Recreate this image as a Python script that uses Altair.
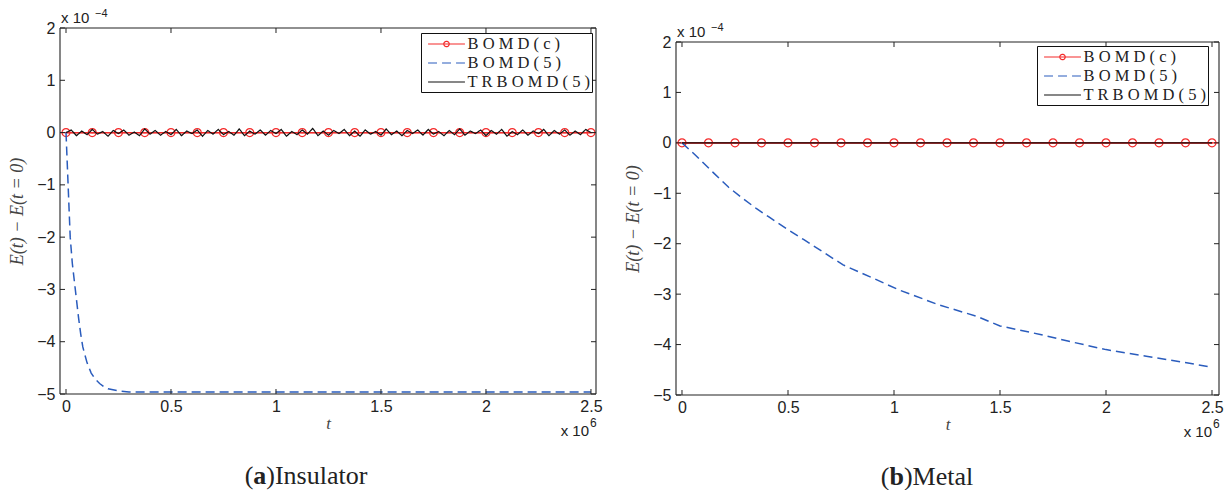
import altair as alt
import pandas as pd

# ---------------- data ----------------
series_names = ["BOMD(c)", "BOMD(5)", "TRBOMD(5)"]
series_colors = ["#f42a2a", "#2a5cbd", "#111111"]
series_dashes = [[1, 0], [9, 5], [1, 0]]

x_ticks = [0, 0.5, 1, 1.5, 2, 2.5]
y_ticks = [2, 1, 0, -1, -2, -3, -4, -5]

# BOMD(c) markers (t in units of 1e6, E in units of 1e-4)
marker_t = [0, 0.125, 0.25, 0.375, 0.5, 0.625, 0.75, 0.875, 1.0, 1.125, 1.25,
            1.375, 1.5, 1.625, 1.75, 1.875, 2.0, 2.125, 2.25, 2.375, 2.5]

# (a) Insulator
ins_bomd5_t = [0, 0.005, 0.01, 0.015, 0.02, 0.03, 0.04, 0.05, 0.06, 0.07, 0.08,
               0.09, 0.1, 0.12, 0.14, 0.16, 0.18, 0.2, 0.25, 0.3, 0.4, 0.6,
               1.0, 1.5, 2.0, 2.5]
ins_bomd5_e = [0, -0.5, -1.0, -1.5, -2.0, -2.5, -2.85, -3.2, -3.55, -3.85, -4.1,
               -4.25, -4.4, -4.6, -4.72, -4.8, -4.86, -4.9, -4.94, -4.96, -4.96,
               -4.96, -4.96, -4.96, -4.96, -4.96]
ins_tr_step = 0.025
ins_tr_e = [
    0.00, 0.05, -0.06, 0.03, -0.04, 0.06, -0.03, 0.02, -0.07, 0.04,
    -0.02, 0.05, -0.05, 0.01, -0.06, 0.07, -0.03, 0.04, -0.05, 0.02,
    -0.04, 0.06, -0.06, 0.03, -0.02, 0.05, -0.07, 0.04, -0.03, 0.06,
    -0.04, 0.02, -0.05, 0.07, -0.06, 0.03, -0.03, 0.05, -0.05, 0.04,
    -0.02, 0.06, -0.07, 0.02, -0.04, 0.05, -0.03, 0.08, -0.06, 0.03,
    -0.05, 0.04, -0.02, 0.06, -0.06, 0.03, -0.07, 0.05, -0.03, 0.02,
    -0.05, 0.07, -0.04, 0.03, -0.06, 0.04, -0.02, 0.05, -0.05, 0.06,
    -0.03, 0.02, -0.06, 0.04, -0.04, 0.07, -0.05, 0.03, -0.02, 0.05,
    -0.06, 0.04, -0.03, 0.06, -0.07, 0.02, -0.04, 0.05, -0.05, 0.03,
    -0.02, 0.06, -0.06, 0.04, -0.03, 0.05, -0.05, 0.03, -0.04, 0.06,
    0.00]

# (b) Metal
met_bomd5_t = [0, 0.065, 0.15, 0.22, 0.28, 0.35, 0.41, 0.5, 0.575, 0.76, 0.91,
               1.02, 1.21, 1.39, 1.5, 1.69, 1.82, 2.0, 2.19, 2.38, 2.5]
met_bomd5_e = [0, -0.25, -0.6, -0.88, -1.08, -1.3, -1.47, -1.72, -1.92, -2.42,
               -2.70, -2.91, -3.21, -3.44, -3.63, -3.80, -3.93, -4.10, -4.23,
               -4.36, -4.45]
met_tr_t = [0, 2.5]
met_tr_e = [0, 0]

# ---------------- styling ----------------
CIRCLE_LINE = ("M-2.05,0L2.05,0M0.3,0A0.3,0.3 0 1,1 -0.3,0"
               "A0.3,0.3 0 1,1 0.3,0")
LINE_ONLY = "M-2.05,0L2.05,0"
SANS = "Liberation Sans"
SERIF = "Liberation Serif"
INK = "#222222"

one = pd.DataFrame({"k": [0]})


def txt(text, x, y, size, align="left", font=SANS, weight="normal",
        style="normal", baseline="alphabetic"):
    return alt.Chart(one).mark_text(
        text=text, align=align, baseline=baseline, fontSize=size, font=font,
        fontWeight=weight, fontStyle=style, color=INK
    ).encode(x=alt.value(x), y=alt.value(y))


def panel(b5_t, b5_e, tr_t, tr_e, W, H, top, xdom, cap_bold, cap_rest,
          cap_center, leg_y):
    xs = alt.Scale(domain=xdom, nice=False, zero=False)
    ys = alt.Scale(domain=[-5, 2], nice=False, zero=False, range=[H, top])
    xaxis = alt.Axis(values=x_ticks, format="~g", title="t", ticks=False,
                     tickSize=0, domain=False, grid=False, labelFont=SANS,
                     labelFontSize=16, labelColor=INK, labelPadding=4,
                     titleFont=SERIF, titleFontStyle="italic",
                     titleFontWeight="normal", titleFontSize=17,
                     titleColor="#444444", titlePadding=1)
    yaxis = alt.Axis(values=y_ticks, format="~g", title="E(t) − E(t = 0)",
                     ticks=False, tickSize=0, domain=False, grid=False,
                     labelFont=SANS, labelFontSize=16, labelColor=INK,
                     labelPadding=5, titleFont=SERIF, titleFontStyle="italic",
                     titleFontWeight="normal", titleFontSize=18,
                     titleColor="#444444", titlePadding=10)
    X = alt.X("t:Q", scale=xs, axis=xaxis)
    Y = alt.Y("e:Q", scale=ys, axis=yaxis)
    leg = alt.Legend(title=None, orient="none", legendX=361, legendY=leg_y,
                     padding=1, strokeColor="#111111", fillColor="white",
                     cornerRadius=0, symbolSize=324, symbolStrokeWidth=1.2,
                     symbolFillColor="transparent", symbolOffset=14.5,
                     labelFont=SERIF, labelFontSize=16.5, labelColor=INK,
                     labelOffset=11, rowPadding=0,
                     labelExpr="join(split(datum.label, ''), ' ')")
    C = alt.Color("series:N", scale=alt.Scale(domain=series_names,
                                              range=series_colors), legend=leg)
    D = alt.StrokeDash("series:N", scale=alt.Scale(domain=series_names,
                                                   range=series_dashes),
                       legend=leg)
    S = alt.Shape("series:N", scale=alt.Scale(
        domain=series_names, range=[CIRCLE_LINE, LINE_ONLY, LINE_ONLY]),
        legend=leg)

    df_red = pd.DataFrame({"t": [marker_t[0], marker_t[-1]], "e": [0, 0],
                           "series": series_names[0]})
    df_mk = pd.DataFrame({"t": marker_t, "e": [0] * len(marker_t),
                          "series": series_names[0]})
    df_b5 = pd.DataFrame({"t": b5_t, "e": b5_e, "series": series_names[1]})
    df_tr = pd.DataFrame({"t": tr_t, "e": tr_e, "series": series_names[2]})

    red = alt.Chart(df_red).mark_line(strokeWidth=1.2, clip=True).encode(
        x=X, y=Y, color=C, strokeDash=D)
    mk = alt.Chart(df_mk).mark_point(filled=False, size=711, strokeWidth=1.2,
                                     opacity=1, clip=True).encode(
        x=X, y=Y, color=C, shape=S)
    b5 = alt.Chart(df_b5).mark_line(strokeWidth=1.5, clip=True).encode(
        x=X, y=Y, color=C, strokeDash=D)
    tr = alt.Chart(df_tr).mark_line(strokeWidth=1.2, clip=True).encode(
        x=X, y=Y, color=C, strokeDash=D)

    # frame (box) drawn through the y scale
    ylim = pd.DataFrame({"e": [y_ticks[0], y_ticks[-1]]})
    yspan = pd.DataFrame({"e": [y_ticks[0]], "e2": [y_ticks[-1]]})
    frame_h = alt.Chart(ylim).mark_rule(color=INK, strokeWidth=1.1).encode(
        y=Y, x=alt.value(0), x2=alt.value(W))
    frame_l = alt.Chart(yspan).mark_rule(color=INK, strokeWidth=1.1).encode(
        y=Y, y2=alt.Y2("e2:Q"), x=alt.value(0))
    frame_r = alt.Chart(yspan).mark_rule(color=INK, strokeWidth=1.1).encode(
        y=Y, y2=alt.Y2("e2:Q"), x=alt.value(W))

    xt = alt.Chart(pd.DataFrame({"t": x_ticks}))
    yt = alt.Chart(pd.DataFrame({"e": y_ticks}))
    tick_b = xt.mark_rule(color=INK, strokeWidth=1).encode(
        x=X, y=alt.value(H), y2=alt.value(H - 5))
    tick_t = xt.mark_rule(color=INK, strokeWidth=1).encode(
        x=X, y=alt.value(top), y2=alt.value(top + 5))
    tick_l = yt.mark_rule(color=INK, strokeWidth=1).encode(
        y=Y, x=alt.value(0), x2=alt.value(5))
    tick_r = yt.mark_rule(color=INK, strokeWidth=1).encode(
        y=Y, x=alt.value(W - 5), x2=alt.value(W))

    # exponent annotations
    e4a = txt("x 10", 1, top - 5, 15)
    e4b = txt("−4", 35, top - 11, 11)
    e6a = txt("x 10", W - 7, H + 42, 15, align="right")
    e6b = txt("6", W - 6, H + 33, 12)

    # caption "(a)Insulator"
    fs = 26
    w_open = 0.333 * fs
    w_bold = (0.5 if cap_bold == "a" else 0.556) * fs
    rest_w = {"a": 3.888, "b": 2.666}[cap_bold] * fs
    start = cap_center - (w_open + w_bold + rest_w) / 2
    c1 = txt("(", start, H + 90, fs, font=SERIF)
    c2 = txt(cap_bold, start + w_open, H + 90, fs, font=SERIF, weight="bold")
    c3 = txt(cap_rest, start + w_open + w_bold, H + 90, fs, font=SERIF)

    layers = [red, mk, b5, tr, frame_h, frame_l, frame_r,
              tick_b, tick_t, tick_l, tick_r,
              e4a, e4b, e6a, e6b, c1, c2, c3]
    return alt.layer(*layers).properties(width=W, height=H)


left = panel(ins_bomd5_t, ins_bomd5_e,
             [round(i * ins_tr_step, 3) for i in range(len(ins_tr_e))],
             ins_tr_e, 536, 366, 0, [-0.0286, 2.524], "a", ")Insulator", 246,
             5)
right = panel(met_bomd5_t, met_bomd5_e, met_tr_t, met_tr_e,
              543, 367, 14, [-0.0283, 2.533], "b", ")Metal", 251, 18)

chart = alt.hconcat(left, right, spacing=21).resolve_scale(
    color="independent", strokeDash="independent", shape="independent",
    x="independent", y="independent"
).resolve_legend(
    color="independent", strokeDash="independent", shape="independent"
).properties(
    padding={"left": 0, "top": 0, "right": 0, "bottom": 0},
    background="white"
).configure_view(stroke="transparent", strokeWidth=0)

chart.save("out.html", embed_options={"renderer": "svg", "actions": False})
